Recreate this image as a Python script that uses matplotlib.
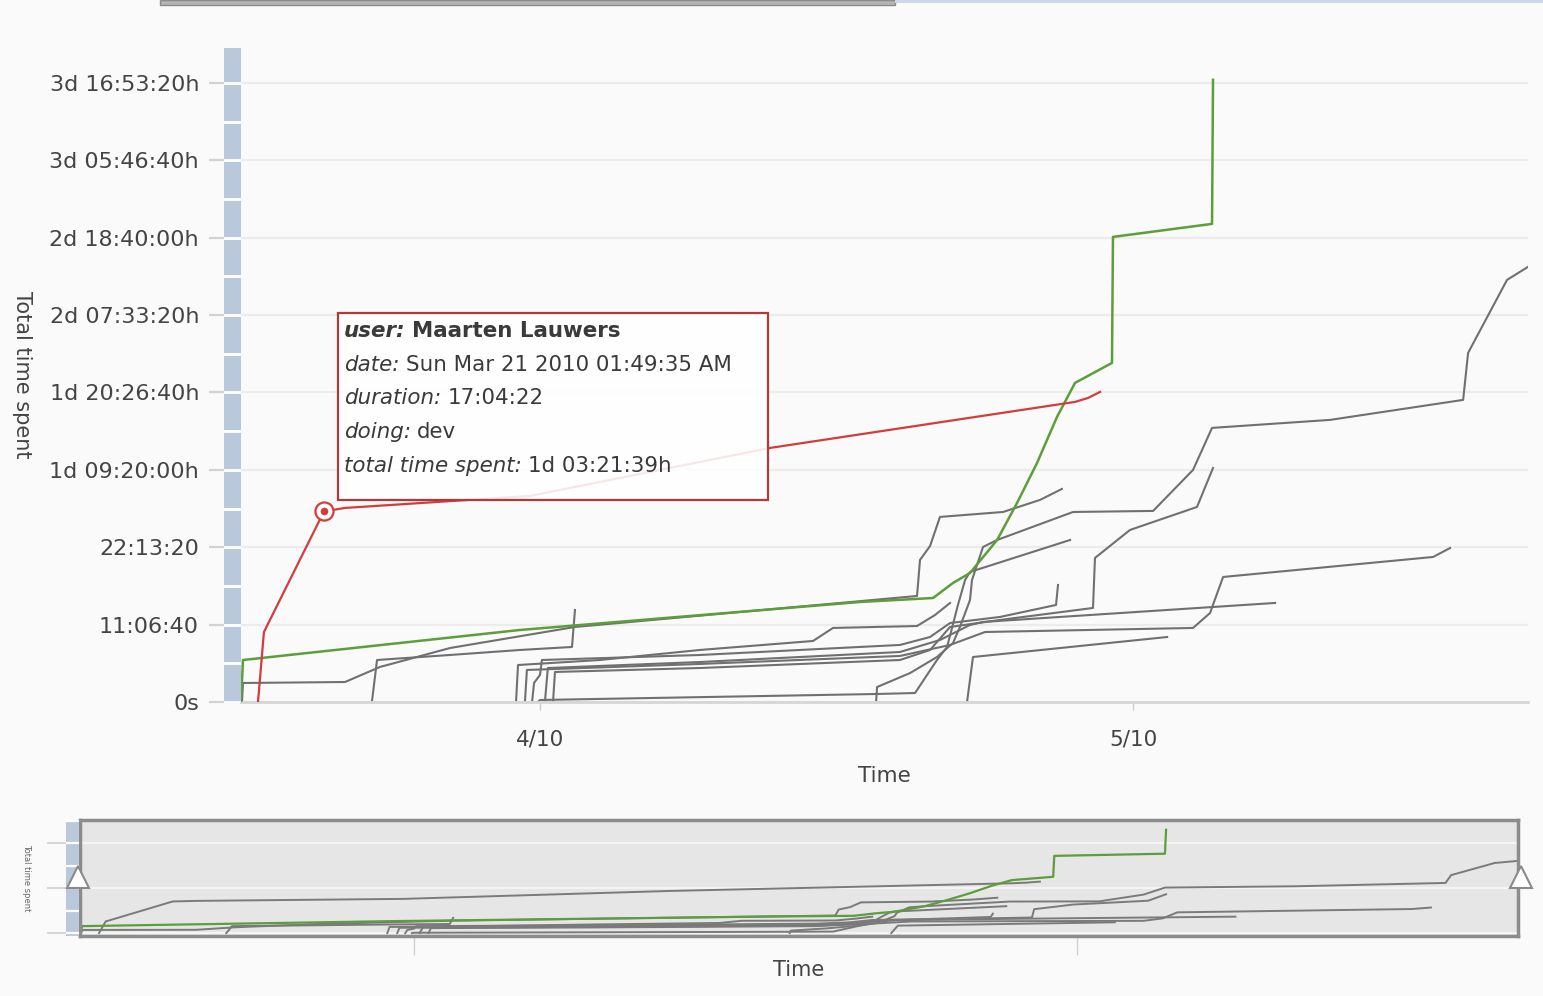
import matplotlib
matplotlib.use("Agg")
import matplotlib.pyplot as plt
import matplotlib.dates as mdates
from matplotlib.patches import Rectangle, Polygon
from matplotlib.ticker import MultipleLocator, FuncFormatter, FixedLocator, NullFormatter
from datetime import datetime, timedelta
import numpy as np

plt.rcParams['font.family'] = ['DejaVu Sans']

START = datetime(2010, 4, 1)

# x = days relative to 2010-04-01, y = total time spent (hours)
red_days = [-14.26, -13.96, -10.924, -9.86, -0.51, 11.63, 27.06, 27.72, 28.33]
red_hours = [0, 10.05, 27.361, 27.86, 29.58, 36.47, 43.08, 43.65, 44.52]

green_days = [-15.12, -15.02, -1.01, 16.19, 19.88, 20.89, 21.75, 23.12, 24.13,
              25.14, 26.15, 27.06, 28.93, 28.98, 33.99, 34.04]
green_hours = [0, 6.03, 10.34, 14.36, 14.93, 17.09, 18.52, 23.26, 28.58,
               34.32, 40.93, 45.81, 48.68, 66.77, 68.64, 89.32]

g1_days = [-15.07, -15.02, -9.86, -8.09, -4.55, 1.77, 19.07, 19.22, 19.73, 20.23, 23.42, 25.29, 26.40]
g1_hours = [0, 2.73, 2.87, 5.03, 7.75, 10.77, 15.22, 20.39, 22.40, 26.57, 27.28, 29.01, 30.59]

g2_days = [-8.50, -8.24, -4.55, -1.01, 1.62, 1.77]
g2_hours = [0, 6.03, 6.75, 7.47, 7.90, 13.21]

g3_days = [17.00, 17.05, 18.72, 20.08, 20.89, 21.24, 21.75, 21.85, 22.41, 23.12,
           26.96, 31.01, 33.03, 33.99, 39.96, 46.69, 46.94, 48.91, 49.97]
g3_hours = [0, 2.15, 4.16, 6.46, 8.47, 10.77, 14.65, 17.52, 22.26, 23.26,
            27.28, 27.43, 33.32, 39.35, 40.50, 43.37, 50.12, 60.60, 62.47]

g4_days = [-0.10, 0, 17.05, 18.97, 20.08, 20.59, 21.14, 21.50, 21.75, 26.81]
g4_hours = [0, 0.29, 1.15, 1.29, 6.03, 7.90, 13.93, 17.52, 18.67, 23.26]

g5_days = [-1.21, -1.11, 3.03, 8.09, 13.81, 14.82, 19.07, 19.98, 20.74]
g5_hours = [0, 5.31, 6.03, 7.47, 8.76, 10.63, 10.91, 12.49, 14.22]

g6_days = [-0.40, -0.30, 0, 0.10, 8.09, 18.21, 19.73, 20.74, 23.27, 26.10, 26.20]
g6_hours = [0, 2.73, 3.88, 6.03, 6.75, 8.19, 9.33, 11.34, 12.21, 13.93, 16.80]

g7_days = [0.66, 0.76, 8.09, 18.21, 19.73, 20.74, 23.27, 27.97, 28.07, 29.84, 33.23, 34.04]
g7_hours = [0, 4.31, 4.88, 6.03, 7.47, 10.77, 11.78, 13.50, 20.68, 24.70, 28.00, 33.60]

g8_days = [0.25, 0.40, 8.09, 18.21, 20.23, 21.75, 22.41, 37.18]
g8_hours = [0, 4.88, 5.74, 7.18, 8.90, 11.06, 11.49, 14.22]

g9_days = [-0.76, -0.66, 8.09, 18.21, 20.74, 22.51, 33.03, 33.89, 34.55, 45.17, 46.03]
g9_hours = [0, 4.60, 5.46, 6.61, 8.19, 10.05, 10.63, 12.78, 17.95, 20.82, 22.11]

g10_days = [21.60, 21.90, 31.72]
g10_hours = [0, 6.46, 9.33]

grays = [(g1_days, g1_hours), (g2_days, g2_hours), (g3_days, g3_hours), (g4_days, g4_hours),
         (g5_days, g5_hours), (g6_days, g6_hours), (g7_days, g7_hours), (g8_days, g8_hours),
         (g9_days, g9_hours), (g10_days, g10_hours)]

tooltip = [("user:", "Maarten Lauwers"),
           ("date:", "Sun Mar 21 2010 01:49:35 AM"),
           ("duration:", "17:04:22"),
           ("doing:", "dev"),
           ("total time spent:", "1d 03:21:39h")]


def to_dates(days):
    return [START + timedelta(days=d) for d in days]


def to_secs(hours):
    return np.array(hours) * 3600.0


def fmt_secs(v, pos=None):
    s = int(round(v))
    if s == 0:
        return "0s"
    d, r = divmod(s, 86400)
    h, r = divmod(r, 3600)
    m, sec = divmod(r, 60)
    if d:
        return f"{d}d {h:02d}:{m:02d}:{sec:02d}h"
    return f"{h:02d}:{m:02d}:{sec:02d}"


def fmt_month(v, pos=None):
    dt = mdates.num2date(v)
    return f"{dt.month}/{dt:%y}"


W, H = 1543, 996
def fx(px):
    return px / W
def fy(py):
    return 1 - py / H

GRAY = '#707070'
GREEN = '#5c9e3a'
RED = '#d43c3c'
BAR = '#b9c8da'

fig = plt.figure(figsize=(W / 100, H / 100), dpi=100, facecolor='#fafafa')

# browser tab strip on top
fig.patches.append(Rectangle((fx(160), fy(5)), fx(895) - fx(160), 5 / H, transform=fig.transFigure,
                             facecolor='#b4b4b4', edgecolor='#8a8a8a', lw=1))
fig.patches.append(Rectangle((fx(895), fy(3)), fx(1543) - fx(895), 3 / H, transform=fig.transFigure,
                             facecolor='#c9d9ea', edgecolor='none'))

xmin = START - timedelta(days=15.12)
xmax = START + timedelta(days=49.97)

# ---------- main chart ----------
ax = fig.add_axes([fx(241), fy(702), fx(1528) - fx(241), (702 - 48) / H])
ax.set_facecolor('none')
bar = fig.add_axes([fx(224), fy(702), fx(241) - fx(224), (702 - 48) / H], sharey=ax)
bar.set_facecolor(BAR)

ax.set_ylim(0, 338000)
ax.yaxis.set_major_locator(MultipleLocator(40000))
ax.yaxis.set_major_formatter(FuncFormatter(fmt_secs))
ax.grid(axis='y', color='#ececec', lw=1.6)
ax.set_axisbelow(True)
for s in ['top', 'right', 'left']:
    ax.spines[s].set_visible(False)
ax.spines['bottom'].set_color('#d6d6d6')
ax.spines['bottom'].set_linewidth(2)
ax.tick_params(axis='y', left=False, labelleft=False)

for days, hours in grays:
    ax.plot(to_dates(days), to_secs(hours), color=GRAY, lw=1.5, zorder=2)
ax.plot(to_dates(green_days), to_secs(green_hours), color=GREEN, lw=1.8, zorder=3)
ax.plot(to_dates(red_days), to_secs(red_hours), color=RED, lw=1.6, zorder=3)
# highlighted point
ax.plot(to_dates(red_days[2:3]), to_secs(red_hours[2:3]), 'o', ms=13, mfc='white', mec=RED, mew=1.6, zorder=5)
ax.plot(to_dates(red_days[2:3]), to_secs(red_hours[2:3]), 'o', ms=4.5, color=RED, zorder=6)

ax.set_xlim(xmin, xmax)
ax.xaxis.set_major_locator(mdates.MonthLocator())
ax.xaxis.set_major_formatter(FuncFormatter(fmt_month))
ax.tick_params(axis='x', length=6, width=1, color='#cccccc', pad=14, labelsize=15.5, labelcolor='#444444')
ax.set_xlabel("Time", fontsize=15.5, color='#444444', labelpad=12)

bar.tick_params(axis='y', length=11, width=1.6, color='#d2d2d2', pad=7, labelsize=16, labelcolor='#444444')
bar.tick_params(axis='x', bottom=False, labelbottom=False)
for s in bar.spines.values():
    s.set_visible(False)
for v in np.arange(0, 338000, 20000):
    bar.axhline(v, color='white', lw=2)
bar.set_ylabel("Total time spent", rotation=270, fontsize=15, color='#444444', labelpad=22)
bar.yaxis.set_label_coords(-12.5, 0.5)

# tooltip
fig.patches.append(Rectangle((fx(338), fy(500)), fx(768) - fx(338), (500 - 313) / H, transform=fig.transFigure,
                             facecolor='white', alpha=0.88, edgecolor='none', zorder=10))
fig.patches.append(Rectangle((fx(338), fy(500)), fx(768) - fx(338), (500 - 313) / H, transform=fig.transFigure,
                             facecolor='none', edgecolor='#b03a3a', lw=1.6, zorder=11))
renderer = fig.canvas.get_renderer()
for i, (key, val) in enumerate(tooltip):
    yc = 331 + i * 33.7
    w = 'bold' if i == 0 else 'normal'
    t = fig.text(fx(344), fy(yc), key, style='italic', weight=w, fontsize=15.4, color='#3a3a3a',
                 va='center', ha='left', zorder=12)
    bb = t.get_window_extent(renderer)
    fig.text(fx(bb.x1 + 6), fy(yc), val, weight=w, fontsize=15.4, color='#3a3a3a',
             va='center', ha='left', zorder=12)

# ---------- overview ----------
ov = fig.add_axes([fx(80), fy(936), fx(1518) - fx(80), (936 - 820) / H])
ov.set_facecolor('#e6e6e6')
ovbar = fig.add_axes([fx(66), fy(936), fx(79) - fx(66), (936 - 820) / H], sharey=ov)
ovbar.set_facecolor(BAR)
ov.set_ylim(-9000, 352000)
ov.yaxis.set_major_locator(FixedLocator([0, 140000, 280000]))
ov.yaxis.set_major_formatter(NullFormatter())
ov.grid(axis='y', color='#f4f4f4', lw=1.5)
ov.set_axisbelow(True)
for s in ov.spines.values():
    s.set_color('#8c8c8c')
    s.set_linewidth(2.5)
ov.tick_params(axis='y', left=False)

for days, hours in grays + [(red_days, red_hours)]:
    ov.plot(to_dates(days), to_secs(hours), color='#7a7a7a', lw=1.4)
ov.plot(to_dates(green_days), to_secs(green_hours), color=GREEN, lw=1.6)
ov.set_xlim(xmin, xmax)
ov.xaxis.set_major_locator(mdates.MonthLocator())
ov.xaxis.set_major_formatter(NullFormatter())
ov.tick_params(axis='x', length=14, width=1, color='#d0d0d0')
ov.set_xlabel("Time", fontsize=15, color='#444444', labelpad=0)

for s in ovbar.spines.values():
    s.set_visible(False)
ovbar.tick_params(axis='y', length=14, width=1.4, color='#d6d6d6', labelleft=False)
ovbar.tick_params(axis='x', bottom=False, labelbottom=False)
for v in np.arange(0, 352000, 70000):
    ovbar.axhline(v, color='white', lw=1.6)
ovbar.set_ylabel("Total time spent", rotation=270, fontsize=6, color='#666666')
ovbar.yaxis.set_label_coords(-3.4, 0.5)

# slider handles
for cx in (78, 1521):
    fig.patches.append(Polygon([(fx(cx), fy(866)), (fx(cx - 11), fy(888)), (fx(cx + 11), fy(888))],
                               closed=True, transform=fig.transFigure, facecolor='white',
                               edgecolor='#8a8a8a', lw=1.5, zorder=10))

fig.savefig("out.png", dpi=100, facecolor=fig.get_facecolor())
